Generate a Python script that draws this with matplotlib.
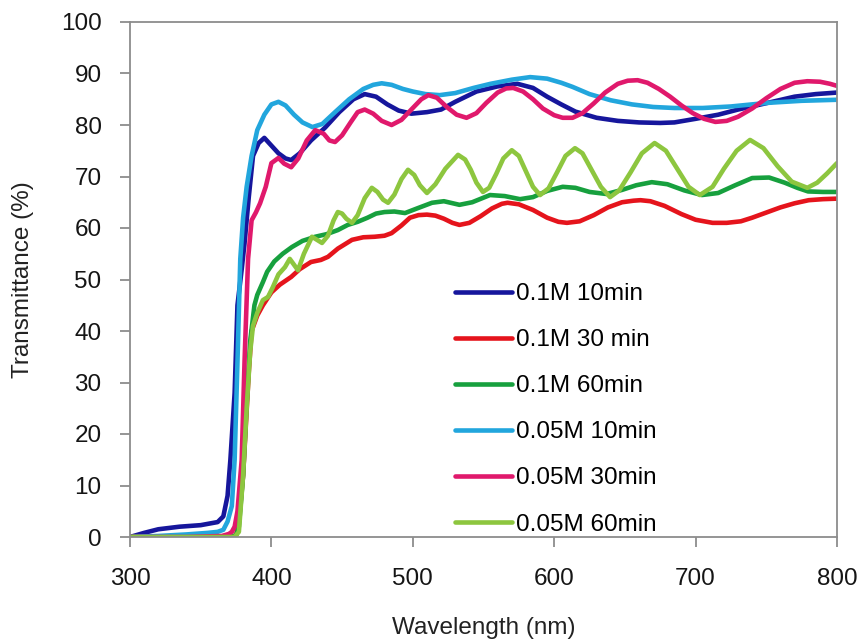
import matplotlib
matplotlib.use("Agg")
import matplotlib.pyplot as plt

plt.rcParams['font.family'] = ['Liberation Sans', 'DejaVu Sans']

labels = ["0.1M 10min", "0.1M 30 min", "0.1M 60min", "0.05M 10min", "0.05M 30min", "0.05M 60min"]
colors = ["#16169c", "#e5141c", "#17a03e", "#22a6dd", "#e0196c", "#8dc63f"]

# 0.1M 10min
wl_a = [300, 310, 320, 335, 350, 362, 366, 369, 371, 374, 376, 379, 381, 384, 387, 391, 395, 400, 405, 410,
        414, 420, 428, 438, 448, 458, 466, 474, 482, 490, 499, 510, 520, 530, 545, 560, 574, 585, 595, 605,
        615, 630, 645, 660, 675, 685, 700, 716, 730, 751, 770, 785, 800]
t_a = [0, 0.8, 1.5, 2.0, 2.3, 2.9, 4, 8, 15, 28, 45, 52, 57, 66, 74, 76.5, 77.5, 76, 74.5, 73.5,
       73.2, 74.5, 77, 79.5, 82.5, 85, 86, 85.5, 84, 82.8, 82.2, 82.5, 83, 84.5, 86.5, 87.5, 88, 87.2, 85.5, 84,
       82.6, 81.4, 80.8, 80.5, 80.4, 80.5, 81.2, 82, 83, 84.3, 85.5, 86, 86.3]

# 0.1M 30 min
wl_b = [300, 370, 375, 377, 380, 382, 384, 386, 390, 394, 400, 406, 414, 420, 428, 435, 440, 447, 457, 465,
        473, 480, 485, 492, 498, 504, 510, 516, 522, 528, 533, 540, 548, 556, 563, 567, 575, 585, 595, 603,
        609, 618, 628, 638, 648, 656, 661, 668, 678, 690, 700, 712, 722, 732, 740, 750, 760, 770, 780, 790, 800]
t_b = [0, 0, 0.3, 3, 12, 22, 32, 40, 43, 45, 47.5, 49, 50.5, 52, 53.4, 53.8, 54.4, 56, 57.7, 58.2,
       58.3, 58.5, 59, 60.5, 62, 62.5, 62.6, 62.4, 61.8, 61, 60.6, 61, 62.3, 63.8, 64.7, 64.9, 64.6, 63.5, 62, 61.2,
       61, 61.3, 62.5, 64, 65, 65.3, 65.4, 65.2, 64.3, 62.7, 61.6, 61, 61, 61.3, 62, 63, 64, 64.8, 65.4, 65.6, 65.7]

# 0.1M 60min
wl_c = [300, 370, 375, 377, 380, 382.5, 385, 388, 390, 394, 397, 402, 408, 414.5, 422, 431, 439, 447, 454, 461,
        468, 474, 480, 487, 494.5, 503, 513.6, 522, 533, 542, 554.6, 565, 575.8, 585, 595, 606, 615, 625, 637, 648,
        658, 669, 680, 692, 704.5, 716, 728, 740, 752, 763, 772, 779.5, 790, 800]
t_c = [0, 0, 0.3, 2, 12, 26, 38, 45, 47, 49.5, 51.5, 53.5, 55, 56.3, 57.5, 58.3, 58.8, 59.6, 60.6, 61.2,
       62, 62.8, 63.1, 63.2, 62.9, 63.8, 64.9, 65.2, 64.5, 65, 66.4, 66.2, 65.6, 66, 67.2, 68, 67.8, 67, 66.6, 67.4,
       68.3, 68.9, 68.5, 67.3, 66.4, 66.8, 68.3, 69.7, 69.8, 68.8, 67.8, 67.1, 67, 67]

# 0.05M 10min
wl_d = [300, 320, 340, 355, 362, 366, 369, 372, 374, 376, 378, 380, 382.5, 386, 390, 395, 400, 405, 410, 416,
        422, 429, 436, 445, 455, 465, 472, 478, 485, 493, 500, 509, 519, 530, 543, 555, 570, 583, 595, 605,
        613, 625, 640, 655, 670, 685, 705, 725, 751, 775, 800]
t_d = [0, 0.2, 0.5, 0.8, 1, 1.4, 3, 6, 15, 34, 54, 62, 68, 74, 79, 82, 84, 84.5, 83.8, 82,
       80.5, 79.6, 80.2, 82.5, 85, 87, 87.8, 88.1, 87.8, 87, 86.5, 86, 85.8, 86.2, 87.2, 88, 88.8, 89.3, 89, 88.2,
       87.4, 86, 84.8, 84, 83.5, 83.3, 83.3, 83.6, 84.3, 84.7, 84.9]

# 0.05M 30min
wl_e = [300, 340, 365, 370, 372, 374, 376, 379, 381, 383.5, 386, 389, 392, 396, 400, 405, 409, 414, 419, 425,
        431, 437, 441, 445, 450, 456, 461, 466, 472, 478, 485, 492, 500, 506, 511, 517, 524, 531, 538, 545,
        552, 560, 566, 571, 578, 585, 592, 600, 606, 613, 620, 628, 636, 645, 652, 659, 666, 674, 682, 690,
        698, 706, 714, 722, 730, 740, 750, 760, 770, 779, 788, 795, 800]
t_e = [0, 0, 0.2, 0.6, 1, 2, 5, 15, 34, 54, 61.5, 63, 64.8, 68, 72.6, 73.6, 72.5, 71.8, 73.5, 77,
       79, 78.3, 77, 76.7, 78, 80.5, 82.5, 83, 82.2, 80.8, 80, 81, 83.3, 85, 85.8, 85.3, 83.5, 82, 81.4, 82.3,
       84.3, 86.3, 87.1, 87.2, 86.5, 85, 83.2, 81.9, 81.4, 81.4, 82.3, 84.2, 86.3, 88, 88.6, 88.7, 88.2, 87, 85.5, 83.8,
       82.3, 81.2, 80.6, 80.8, 81.6, 83.2, 85.2, 87, 88.2, 88.5, 88.4, 88, 87.6]

# 0.05M 60min
wl_f = [300, 374, 377, 380, 382.5, 385, 387, 390, 394, 397.6, 401, 405, 409.6, 413, 418.8, 423, 428.7, 435.8, 440,
        444, 447, 450, 453, 457, 461, 466, 471, 475, 479, 482.5, 487, 492, 496.6, 501, 505, 510, 516, 523, 532,
        537, 541, 545, 549.6, 554, 559, 564, 570, 575, 580, 585, 590, 596, 602, 608, 614.7, 620, 626, 633, 639.5,
        646, 654, 662, 671, 679, 687, 695, 703, 712, 720, 729, 738.5, 748, 758, 768, 779, 786, 793, 800]
t_f = [0, 0, 1, 12, 25, 36, 41, 43.5, 46, 46.6, 48.5, 51, 52.4, 54, 51.8, 55, 58.3, 57.1, 58.5,
       61.5, 63.1, 62.8, 61.8, 61, 62.5, 65.8, 67.8, 67, 65.5, 64.9, 66.5, 69.5, 71.3, 70.3, 68.3, 66.8, 68.5, 71.5, 74.2,
       73.3, 71.3, 68.8, 67, 67.8, 70.5, 73.5, 75.1, 74, 71, 68, 66.4, 67.7, 70.8, 74, 75.5, 74.5, 71.5, 68, 66,
       67.3, 70.8, 74.5, 76.5, 75, 71.5, 68, 66.4, 68, 71.5, 75, 77.1, 75.5, 72, 69, 67.8, 68.8, 70.6, 72.6]

series = [(wl_a, t_a), (wl_b, t_b), (wl_c, t_c), (wl_d, t_d), (wl_e, t_e), (wl_f, t_f)]
xticks = [300, 400, 500, 600, 700, 800]
yticks = [0, 10, 20, 30, 40, 50, 60, 70, 80, 90, 100]

FS = 17.5
fig = plt.figure(figsize=(8.61, 6.44), dpi=100)
ax = fig.add_axes([130/861, 107/644, 707/861, 515/644])

for (x, y), c, lab in zip(series, colors, labels):
    ax.plot(x, y, color=c, lw=3.3, label=lab, solid_joinstyle='round', solid_capstyle='round')

ax.set_xlim(300, 800)
ax.set_ylim(0, 100)
ax.set_xticks(xticks)
ax.set_yticks(yticks)
for s in ax.spines.values():
    s.set_color('#8c8c8c')
    s.set_linewidth(1.3)
ax.tick_params(axis='both', direction='out', length=7.5, width=1.3, color='#8c8c8c',
               labelsize=FS, labelcolor='#151515')
ax.tick_params(axis='y', pad=13)
ax.tick_params(axis='x', pad=15)

fig.text(483.5/861, 1 - 628/644, "Wavelength (nm)", fontsize=FS, color='#222222',
         ha='center', va='center')
fig.text(23/861, 1 - 280/644, "Transmittance (%)", fontsize=FS, color='#222222',
         ha='center', va='center', rotation=90)

leg = ax.legend(loc='upper left', bbox_to_anchor=(0.46, 0.493), frameon=False,
                fontsize=FS, handlelength=2.35, handletextpad=0.15, labelspacing=0.99,
                borderpad=0, borderaxespad=0)

fig.savefig("out.png", dpi=100)
